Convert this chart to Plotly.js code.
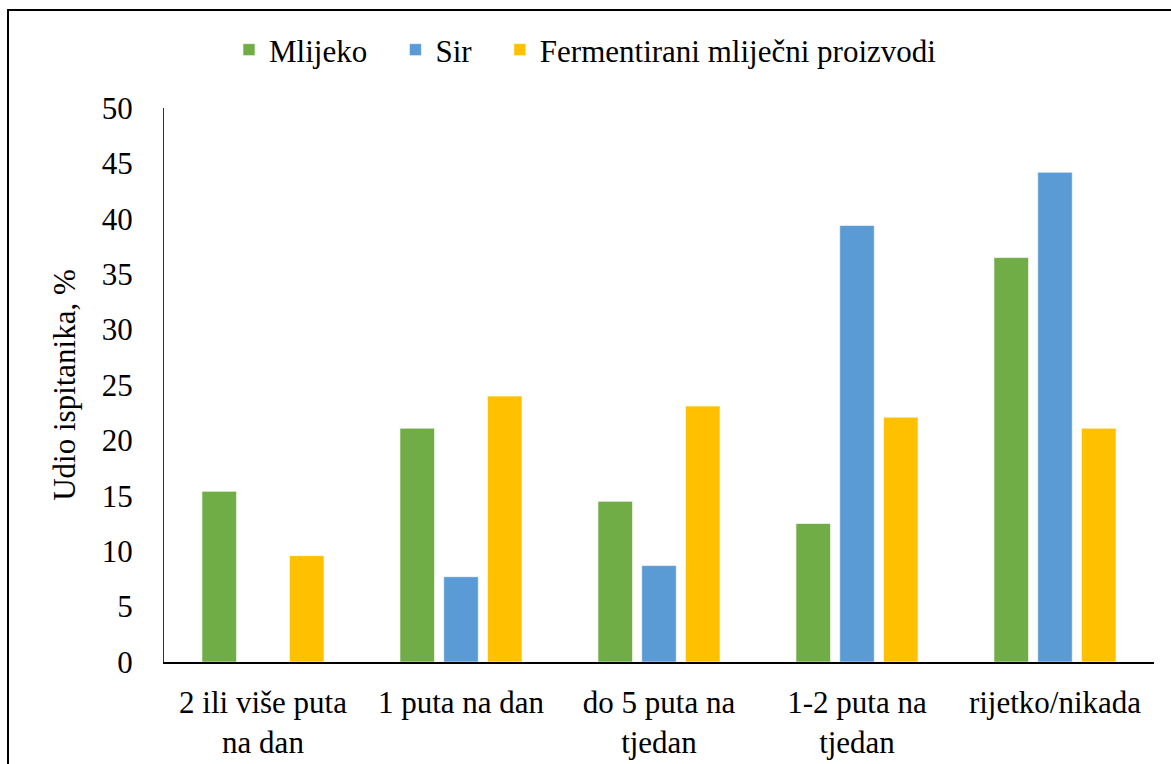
<!DOCTYPE html>
<html>
<head>
<meta charset="utf-8">
<script src="https://cdn.plot.ly/plotly-3.0.1.min.js"></script>
<style>html,body{margin:0;padding:0;background:#fff;}#chart{width:1171px;height:764px;}</style>
</head>
<body>
<div id="chart"></div>
<script>
const categories = ["2 ili više puta<br>na dan", "1 puta na dan", "do 5 puta na<br>tjedan", "1-2 puta na<br>tjedan", "rijetko/nikada"];
const mlijeko = [15.4, 21.1, 14.5, 12.5, 36.5];
const sir = [0, 7.7, 8.7, 39.4, 44.2];
const fermentirani = [9.6, 24.0, 23.1, 22.1, 21.1];
const seriesNames = ["Mlijeko", "Sir", "Fermentirani mliječni proizvodi"];
const yTicks = [0, 5, 10, 15, 20, 25, 30, 35, 40, 45, 50];

const font = {family: "Liberation Serif, Times New Roman, serif", size: 31, color: "#000"};
const colors = ["#70AD47", "#5B9BD5", "#FFC000"];
const vals = [mlijeko, sir, fermentirani];

const traces = vals.map((v, i) => ({
  type: "bar",
  name: seriesNames[i] + (i < 2 ? "\u00a0\u00a0\u00a0" : ""),
  x: categories,
  y: v,
  marker: {color: colors[i], line: {color: "rgba(255,255,255,0.6)", width: 1}},
  hoverinfo: "x+y"
}));

const L = 164, R = 17, T = 108, B = 102;
const W = 1171, H = 764;
const pw = W - L - R, ph = H - T - B;
const px = p => (p - L) / pw;
const py = p => (H - B - p) / ph;

const layout = {
  width: W, height: H,
  margin: {l: L, r: R, t: T, b: B, pad: 0},
  paper_bgcolor: "#fff",
  plot_bgcolor: "#fff",
  font: font,
  barmode: "group",
  bargap: 0.337,
  bargroupgap: 0.21,
  showlegend: true,
  legend: {
    orientation: "h",
    x: 0.5, xanchor: "center", xref: "container",
    y: 1 - 50 / H, yanchor: "middle", yref: "container",
    font: font,
    traceorder: "normal",
    bgcolor: "rgba(0,0,0,0)"
  },
  xaxis: {
    type: "category",
    showgrid: false,
    zeroline: false,
    showline: true,
    linecolor: "#000",
    linewidth: 1.5,
    ticks: "",
    ticklabelstandoff: 12,
    tickfont: font,
    automargin: false
  },
  yaxis: {
    range: [0, 50],
    tickvals: yTicks,
    ticktext: yTicks.map(String),
    showgrid: false,
    zeroline: false,
    showline: true,
    linecolor: "#333",
    linewidth: 1,
    ticks: "",
    ticklabelstandoff: 24,
    tickfont: font,
    automargin: false,
    title: {text: "Udio ispitanika, %", font: font, standoff: 16}
  },
  shapes: [{
    type: "rect", xref: "paper", yref: "paper",
    x0: px(8), x1: px(1172), y0: py(780), y1: py(10),
    line: {color: "#000", width: 2}, fillcolor: "rgba(0,0,0,0)", layer: "above"
  }]
};

Plotly.newPlot("chart", traces, layout, {displayModeBar: false, staticPlot: true});
</script>
</body>
</html>
